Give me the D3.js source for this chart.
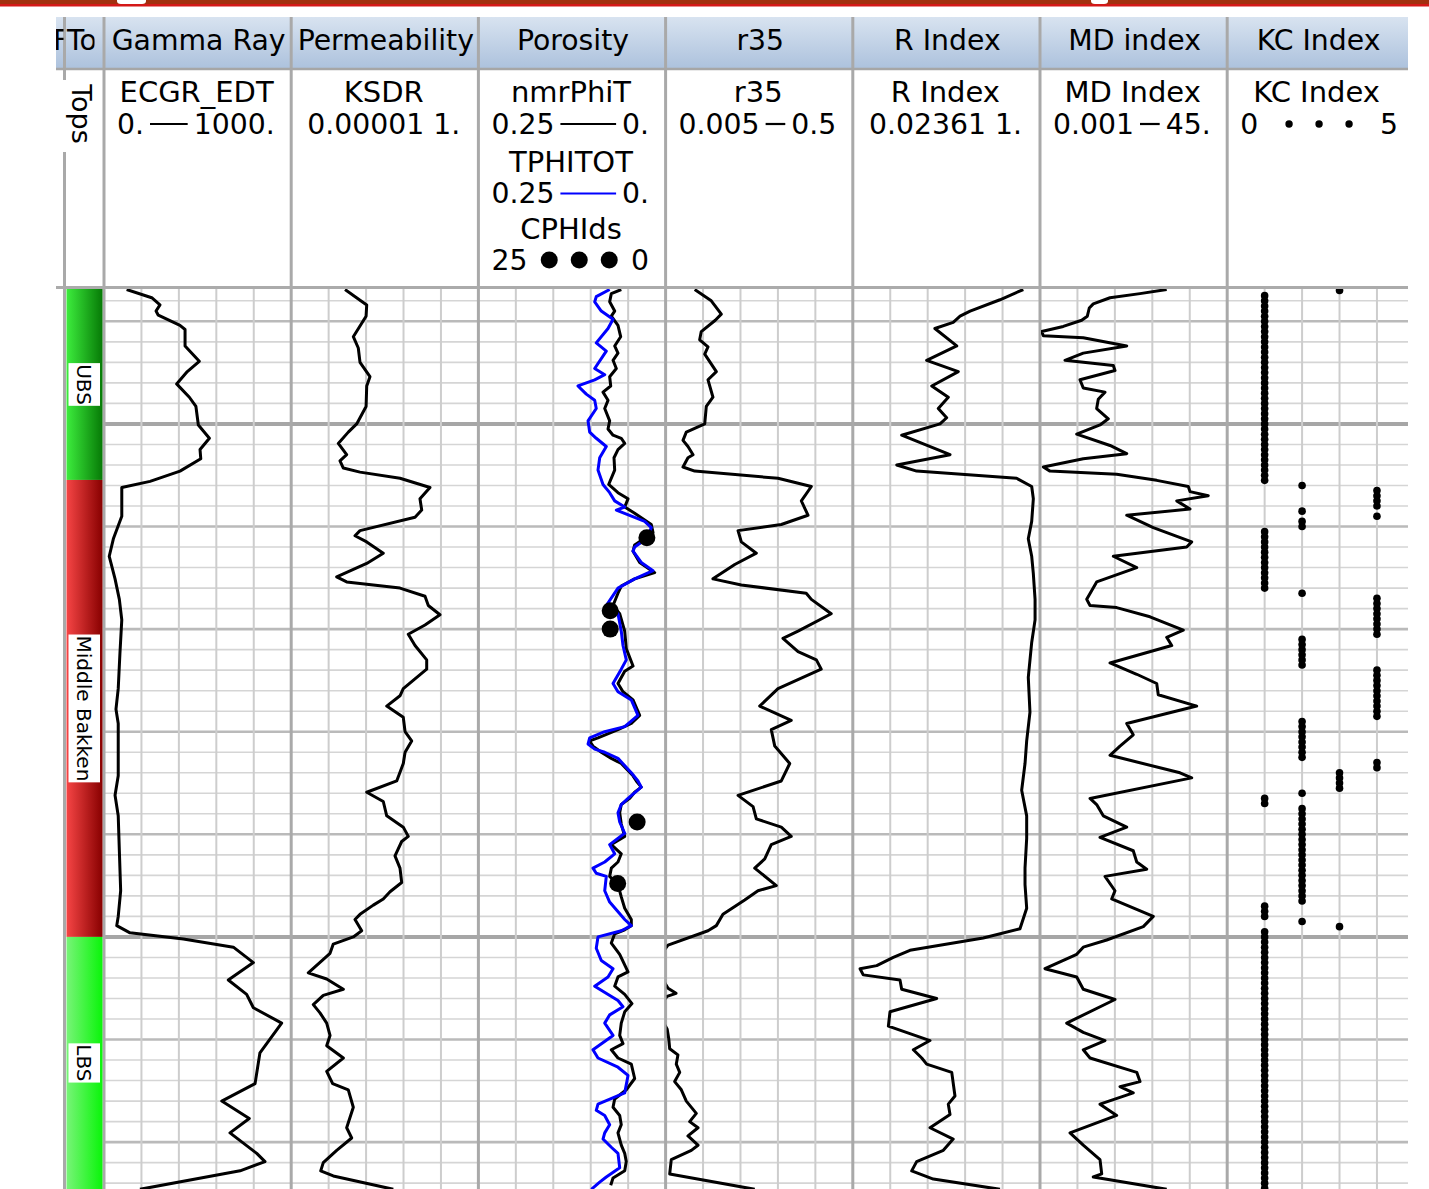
<!DOCTYPE html>
<html lang="en">
<head>
<meta charset="utf-8">
<title>Bakken well log</title>
<script src="https://cdn.jsdelivr.net/npm/d3@7/dist/d3.min.js"></script>
<style>
  html, body { margin: 0; padding: 0; background: #fff; }
  svg { display: block; }
  text { font-family: "DejaVu Sans", Verdana, sans-serif; fill: #000; }
</style>
</head>
<body>
<svg id="log" width="1429" height="1189"></svg>
<script>
// ---------------------------------------------------------------------------
// Depth window (ft) and track titles
// ---------------------------------------------------------------------------
const depthTop = 10836.85;
const depthBottom = 10924.6;
const trackNames = ['Gamma Ray', 'Permeability', 'Porosity', 'r35', 'R Index', 'MD index', 'KC Index'];

// Formation tops: name, top depth (ft)
const topNames = ['UBS', 'Middle Bakken', 'LBS'];
const topDepths = [10800, 10855.46, 10900.0];
const topBaseDepth = 10950;

// ---------------------------------------------------------------------------
// Curves: [depth ft, value]
// ---------------------------------------------------------------------------
// ECGR_EDT (API)
const gammaRay = [[10836.9,121],[10837.7,255],[10838.4,299],[10839.0,278],[10839.4,290],[10840.4,406],[10840.8,433],[10842.4,433],[10843.9,509],[10844.9,445],[10846.1,388],[10847.4,456],[10848.3,491],[10850.1,504],[10851.4,563],[10852.5,513],[10853.4,517],[10854.6,406],[10855.6,246],[10856.2,95],[10859.0,95],[10861.2,50],[10862.9,28],[10865.1,59],[10867.1,82],[10869.1,95],[10872.4,85],[10875.8,76],[10877.8,64],[10879.2,76],[10884.3,76],[10886.2,59],[10888.2,76],[10891.6,82],[10895.5,89],[10898.0,76],[10898.9,68],[10899.6,139],[10900.2,424],[10901.0,691],[10902.5,798],[10904.2,664],[10905.6,762],[10906.9,798],[10908.4,949],[10911.3,833],[10914.3,807],[10916.0,629],[10917.7,776],[10919.1,673],[10921.1,816],[10921.9,860],[10922.8,727],[10924.6,192]];

// KSDR permeability (mD)
const ksdr = [[10836.9,2.74e-4],[10838.4,1.04e-3],[10839.5,1.0e-3],[10841.5,4.56e-4],[10842.6,6.19e-4],[10844.0,6.89e-4],[10845.4,1.27e-3],[10846.3,1.04e-3],[10848.3,1.0e-3],[10850.0,5.61e-4],[10850.8,3.35e-4],[10851.9,1.81e-4],[10853.0,3.03e-4],[10853.6,2.01e-4],[10854.3,2.47e-4],[10854.7,6.89e-4],[10855.3,8.05e-3],[10856.2,5.09e-2],[10857.3,2.75e-2],[10858.4,3.06e-2],[10859.1,2.03e-2],[10860.4,6.89e-4],[10860.9,5.06e-4],[10861.5,1.04e-3],[10862.6,2.88e-3],[10863.6,1.04e-3],[10864.9,1.64e-4],[10865.4,3.03e-4],[10866.0,8.05e-3],[10866.8,3.75e-2],[10867.7,4.59e-2],[10868.6,9.42e-2],[10869.6,3.75e-2],[10870.5,1.34e-2],[10871.6,2.03e-2],[10873.0,4.16e-2],[10873.9,4.16e-2],[10875.8,9.86e-3],[10876.5,8.05e-3],[10877.5,3.56e-3],[10878.6,9.86e-3],[10880.0,1.10e-2],[10880.9,1.65e-2],[10882.0,1.10e-2],[10883.1,9.86e-3],[10884.8,6.58e-3],[10885.9,1.04e-3],[10886.8,2.88e-3],[10888.2,3.56e-3],[10889.3,9.86e-3],[10890.2,1.34e-2],[10890.7,8.93e-3],[10892.1,5.92e-3],[10893.3,8.05e-3],[10894.7,8.93e-3],[10895.6,4.36e-3],[10896.3,2.88e-3],[10896.9,1.56e-3],[10897.8,6.89e-4],[10898.3,5.06e-4],[10899.4,7.64e-4],[10900.0,4.56e-4],[10900.7,1.33e-4],[10901.6,1.09e-4],[10903.5,2.86e-5],[10904.1,8.87e-5],[10905.1,2.47e-4],[10905.7,7.19e-5],[10906.6,3.89e-5],[10907.4,5.87e-5],[10908.4,8.87e-5],[10909.6,1.09e-4],[10910.6,8.87e-5],[10911.8,2.47e-4],[10913.1,8.87e-5],[10914.3,1.28e-4],[10914.9,3.35e-4],[10916.6,4.56e-4],[10918.6,3.03e-4],[10919.6,4.13e-4],[10920.8,1.64e-4],[10922.0,7.19e-5],[10922.8,6.14e-5],[10923.3,1.33e-4],[10924.6,5.33e-3]];

// NMR total porosity (v/v)
const nmrPhiT = [[10836.9,0.0592],[10837.3,0.0725],[10838.1,0.0747],[10839.0,0.0680],[10839.5,0.0725],[10840.4,0.0636],[10841.5,0.0600],[10842.4,0.0680],[10843.1,0.0636],[10843.8,0.0702],[10844.6,0.0658],[10845.4,0.0747],[10846.3,0.0733],[10846.9,0.0836],[10847.7,0.0769],[10848.5,0.0813],[10849.7,0.0747],[10850.5,0.0769],[10851.1,0.0702],[10851.4,0.0592],[10851.9,0.0546],[10852.5,0.0636],[10853.3,0.0689],[10854.5,0.0680],[10855.9,0.0760],[10856.7,0.0636],[10857.3,0.0502],[10858.1,0.0546],[10858.7,0.0413],[10859.8,0.0191],[10860.6,0.0168],[10861.8,0.0413],[10862.4,0.0435],[10863.5,0.0346],[10864.5,0.0146],[10865.1,0.0413],[10865.8,0.0592],[10866.5,0.0636],[10867.7,0.0702],[10868.5,0.0613],[10870.2,0.0546],[10871.9,0.0525],[10873.6,0.0435],[10874.1,0.0546],[10875.3,0.0636],[10876.1,0.0569],[10876.9,0.0435],[10878.4,0.0346],[10879.2,0.0458],[10879.8,0.0636],[10880.6,0.0903],[10880.9,0.1014],[10881.4,0.0970],[10882.0,0.0859],[10882.6,0.0725],[10883.1,0.0592],[10884.3,0.0435],[10884.8,0.0391],[10885.4,0.0325],[10885.9,0.0413],[10886.5,0.0479],[10887.1,0.0592],[10887.9,0.0613],[10889.0,0.0592],[10890.2,0.0546],[10891.0,0.0725],[10891.9,0.0592],[10892.7,0.0636],[10893.3,0.0725],[10894.1,0.0747],[10894.9,0.0636],[10896.1,0.0592],[10897.2,0.0546],[10898.3,0.0458],[10898.9,0.0458],[10899.3,0.0546],[10899.7,0.0680],[10900.6,0.0725],[10901.7,0.0613],[10903.4,0.0502],[10903.9,0.0636],[10904.8,0.0680],[10905.6,0.0546],[10906.5,0.0449],[10907.3,0.0546],[10908.4,0.0592],[10909.6,0.0613],[10910.4,0.0569],[10911.0,0.0725],[10911.8,0.0636],[10912.4,0.0458],[10913.8,0.0413],[10914.9,0.0525],[10915.8,0.0680],[10916.6,0.0702],[10917.4,0.0613],[10918.3,0.0592],[10919.1,0.0636],[10920.3,0.0592],[10921.1,0.0546],[10921.9,0.0525],[10922.8,0.0546],[10923.5,0.0702],[10924.2,0.0733]];

// Total porosity (v/v)
const tphitot = [[10836.9,0.0747],[10837.6,0.0926],[10838.1,0.0947],[10839.0,0.0859],[10839.8,0.0702],[10840.7,0.0769],[10842.1,0.0926],[10842.9,0.0792],[10844.6,0.0947],[10845.2,0.0813],[10845.7,0.0947],[10846.3,0.1170],[10847.1,0.1059],[10847.7,0.0947],[10848.5,0.0926],[10849.7,0.1036],[10850.8,0.1014],[10851.4,0.0926],[10852.2,0.0792],[10853.3,0.0880],[10854.5,0.0903],[10855.9,0.0836],[10856.7,0.0747],[10857.5,0.0680],[10858.1,0.0546],[10858.4,0.0658],[10859.5,0.0279],[10860.1,0.0191],[10861.2,0.0258],[10862.0,0.0413],[10862.4,0.0435],[10863.5,0.0325],[10864.3,0.0168],[10865.1,0.0413],[10866.0,0.0636],[10867.7,0.0792],[10868.5,0.0636],[10870.2,0.0592],[10871.6,0.0569],[10873.0,0.0525],[10873.9,0.0592],[10875.3,0.0702],[10876.1,0.0636],[10876.9,0.0458],[10878.4,0.0369],[10879.5,0.0546],[10880.0,0.0813],[10880.6,0.1014],[10881.2,0.1036],[10881.7,0.0947],[10882.0,0.0813],[10882.6,0.0636],[10884.0,0.0458],[10884.8,0.0369],[10885.4,0.0325],[10886.5,0.0502],[10887.1,0.0592],[10887.9,0.0636],[10888.8,0.0613],[10889.9,0.0546],[10891.0,0.0747],[10891.9,0.0680],[10892.7,0.0813],[10893.3,0.0970],[10893.8,0.0926],[10894.1,0.0792],[10895.5,0.0813],[10896.6,0.0747],[10898.3,0.0546],[10898.9,0.0458],[10899.4,0.0592],[10900.0,0.0903],[10901.1,0.0926],[10902.3,0.0859],[10903.1,0.0702],[10903.9,0.0769],[10904.8,0.0947],[10906.2,0.0636],[10906.8,0.0569],[10907.6,0.0747],[10908.4,0.0813],[10909.6,0.0702],[10911.0,0.0970],[10911.8,0.0903],[10912.7,0.0636],[10913.5,0.0502],[10915.2,0.0546],[10916.3,0.0903],[10916.9,0.0926],[10917.4,0.0813],[10918.3,0.0747],[10919.1,0.0813],[10919.7,0.0836],[10920.5,0.0725],[10921.1,0.0636],[10922.5,0.0613],[10923.4,0.0792],[10923.9,0.0880],[10924.6,0.0992]];

// Core porosity CPHIds (%)
const cphids = [[10861.1,2.5],[10868.2,7.4],[10870.0,7.4],[10888.8,3.8],[10894.8,6.4]];

// r35 pore-throat radius (micron)
const r35 = [[10836.9,0.01023],[10838.0,0.01538],[10839.3,0.01968],[10839.9,0.01698],[10841.0,0.01202],[10841.8,0.01156],[10842.5,0.01419],[10843.2,0.01309],[10844.9,0.01742],[10845.7,0.01419],[10847.4,0.01603],[10848.3,0.01361],[10850.0,0.01309],[10850.8,0.00832],[10851.6,0.00767],[10852.2,0.00867],[10853.0,0.00982],[10853.3,0.00867],[10854.2,0.00767],[10854.6,0.01023],[10855.3,0.0794],[10856.1,0.1803],[10857.5,0.141],[10858.9,0.166],[10859.8,0.0861],[10860.4,0.0297],[10861.5,0.0322],[10862.6,0.0466],[10863.7,0.0274],[10865.1,0.01603],[10865.7,0.0322],[10866.5,0.159],[10867.1,0.1803],[10868.5,0.294],[10870.2,0.130],[10870.9,0.0897],[10872.2,0.130],[10873.0,0.204],[10873.9,0.230],[10875.8,0.0794],[10877.5,0.0506],[10878.9,0.110],[10879.8,0.0673],[10881.4,0.0733],[10883.1,0.106],[10884.8,0.0861],[10886.2,0.0297],[10887.3,0.0430],[10888.5,0.0466],[10889.3,0.0861],[10890.2,0.110],[10891.0,0.0673],[10892.4,0.0573],[10893.3,0.0448],[10895.0,0.0762],[10895.5,0.0485],[10896.4,0.035],[10897.8,0.0205],[10898.9,0.01742],[10899.4,0.01419],[10900.8,0.00531],[10901.8,0.00436],[10903.7,0.00436],[10905.0,0.00531],[10905.5,0.00646],[10905.8,0.00518],[10906.6,0.00436],[10908.1,0.00458],[10909.0,0.0052],[10909.9,0.0054],[10910.9,0.00553],[10911.5,0.00677],[10912.4,0.0065],[10913.2,0.00708],[10914.1,0.00625],[10914.9,0.00736],[10916.0,0.00832],[10917.2,0.01064],[10918.0,0.00904],[10918.6,0.0111],[10919.4,0.00867],[10920.3,0.0111],[10920.8,0.00942],[10921.7,0.00575],[10923.1,0.00553],[10924.6,0.0448]];

// R index
const rIndex = [[10836.9,0.716],[10837.9,0.449],[10839.0,0.247],[10839.5,0.202],[10840.1,0.176],[10840.7,0.122],[10842.4,0.189],[10843.8,0.1035],[10844.9,0.195],[10846.3,0.1146],[10847.4,0.1596],[10848.5,0.1306],[10849.4,0.1545],[10850.0,0.1352],[10851.1,0.0628],[10853.0,0.1652],[10854.0,0.0569],[10854.6,0.0847],[10855.3,0.627],[10856.1,0.847],[10857.3,0.875],[10859.5,0.847],[10861.2,0.791],[10862.9,0.847],[10864.6,0.875],[10867.1,0.906],[10869.1,0.906],[10871.3,0.847],[10874.7,0.791],[10878.1,0.818],[10880.9,0.766],[10883.1,0.741],[10885.7,0.693],[10888.2,0.766],[10890.4,0.766],[10893.3,0.741],[10894.9,0.741],[10897.2,0.766],[10899.2,0.670],[10900.1,0.321],[10901.3,0.0741],[10902.0,0.0531],[10902.8,0.0381],[10903.1,0.0273],[10903.7,0.0291],[10904.2,0.0607],[10905.1,0.0628],[10906.0,0.1265],[10907.3,0.0497],[10908.7,0.0481],[10910.1,0.1107],[10911.0,0.0793],[10911.8,0.0938],[10912.4,0.1035],[10913.2,0.171],[10915.5,0.1824],[10916.3,0.1596],[10917.3,0.1652],[10918.6,0.1107],[10919.7,0.176],[10920.8,0.1445],[10921.9,0.0847],[10922.8,0.0767],[10923.6,0.1183],[10924.6,0.449]];

// MD index
const mdIndex = [[10836.9,1.41],[10837.3,0.306],[10837.7,0.0550],[10838.3,0.0211],[10838.7,0.0168],[10839.5,0.0150],[10839.9,0.01087],[10840.5,0.00379],[10841.0,0.00110],[10841.4,0.00121],[10841.6,0.0119],[10842.4,0.143],[10843.1,0.0119],[10843.8,0.00418],[10844.3,0.0664],[10844.8,0.0731],[10845.7,0.00986],[10846.5,0.0119],[10846.9,0.0413],[10847.6,0.0281],[10848.5,0.0256],[10849.5,0.0499],[10850.1,0.0310],[10851.0,0.00817],[10852.1,0.0550],[10852.9,0.143],[10853.4,0.0119],[10854.2,0.00121],[10854.6,0.00177],[10854.9,0.0805],[10855.5,0.796],[10856.1,4.85],[10856.6,5.35],[10857.0,15.2],[10857.5,2.50],[10858.3,5.35],[10858.9,0.143],[10860.1,0.655],[10861.5,5.90],[10862.0,4.43],[10862.9,0.0664],[10864.0,0.254],[10865.4,0.0256],[10867.1,0.0145],[10867.7,0.0175],[10867.9,0.0805],[10868.8,0.542],[10870.1,3.65],[10870.8,1.41],[10871.6,1.88],[10873.3,0.0550],[10874.4,0.254],[10875.3,0.796],[10876.4,0.871],[10877.5,7.85],[10879.2,0.143],[10880.3,0.208],[10881.4,0.0973],[10882.3,0.0550],[10884.0,3.02],[10884.5,5.90],[10886.5,0.0175],[10887.1,0.0256],[10888.2,0.0374],[10889.3,0.143],[10890.3,0.0310],[10891.6,0.208],[10892.7,0.254],[10893.4,0.449],[10894.1,0.0413],[10895.5,0.0731],[10896.3,0.0605],[10898.0,0.655],[10899.0,0.370],[10900.3,0.0455],[10901.0,0.0119],[10901.7,0.00817],[10903.1,0.00133],[10903.9,0.00817],[10905.1,0.0119],[10906.1,0.0731],[10908.4,0.00461],[10909.3,0.0119],[10910.1,0.0413],[10911.0,0.0119],[10911.8,0.0175],[10913.2,0.254],[10914.1,0.306],[10914.6,0.0973],[10915.2,0.208],[10916.3,0.0310],[10917.4,0.0805],[10919.1,0.00557],[10920.3,0.0119],[10921.7,0.0310],[10923.1,0.0342],[10923.4,0.0211],[10924.6,1.41]];

// KC index, sampled every 0.5 ft: runs of [from ft, to ft, class]
const kcSampleStep = 0.5;
const kcRuns = [[10837.0,10837.0,3],[10837.5,10855.5,1],[10856.0,10856.0,2],[10856.5,10858.0,4],[10858.5,10858.5,2],[10859.0,10859.0,4],[10859.5,10860.0,2],[10860.5,10866.0,1],[10866.5,10866.5,2],[10867.0,10870.5,4],[10871.0,10873.5,2],[10874.0,10878.5,4],[10879.0,10882.5,2],[10883.0,10883.5,4],[10884.0,10885.5,3],[10886.0,10886.0,2],[10886.5,10887.0,1],[10887.5,10896.5,2],[10897.0,10898.0,1],[10898.5,10898.5,2],[10899.0,10899.0,3],[10899.5,10924.5,1]];

// ---------------------------------------------------------------------------
// Layout
// ---------------------------------------------------------------------------
const W = 1429, H = 1189;
const frameLeft = 56, frameRight = 1408;
const headTop = 17, headBottom = 68, legendBottom = 288, dataTop = 289;
const pxPerFt = 10.26;
const trackLeft = 104, trackW = 187.2;
const topsX0 = 64.5, topsX1 = 104;
const FONT = 28.3;
const CURVE_W = 3;

const svg = d3.select('#log');
const defs = svg.append('defs');

const y = d3.scaleLinear()
  .domain([depthTop, depthBottom])
  .range([dataTop, dataTop + (depthBottom - depthTop) * pxPerFt]);

const tracks = trackNames.map((name, i) => {
  const x0 = trackLeft + i * trackW, x1 = x0 + trackW;
  return { name, x0, x1, vx1: Math.min(x1, frameRight) };
});
const range = i => [tracks[i].x0, tracks[i].x1];

const xGR   = d3.scaleLinear().domain([0, 1000]).range(range(0));
const xPerm = d3.scaleLog().domain([1e-5, 1]).range(range(1));
const xPor  = d3.scaleLinear().domain([0.25, 0]).range(range(2));
const xCphi = d3.scaleLinear().domain([25, 0]).range(range(2));
const xR35  = d3.scaleLog().domain([0.005, 0.5]).range(range(3));
const xRI   = d3.scaleLog().domain([0.02361, 1]).range(range(4));
const xMD   = d3.scaleLog().domain([0.001, 45]).range(range(5));
const xKC   = d3.scaleLinear().domain([0, 5]).range(range(6));

// ---------------------------------------------------------------------------
// Window chrome strip
// ---------------------------------------------------------------------------
svg.append('rect').attr('width', W).attr('height', H).attr('fill', '#fff');
svg.append('rect').attr('x', 0).attr('y', 0).attr('width', W).attr('height', 4.5).attr('fill', '#a2300f');
svg.append('rect').attr('x', 0).attr('y', 4).attr('width', W).attr('height', 2.5).attr('fill', '#d41818');
[[117, 146], [1091, 1108]].forEach(([a, b]) => {
  svg.append('path')
    .attr('d', `M${a},0 L${b},0 L${b},1 Q${b},4 ${b - 4},4 L${a + 4},4 Q${a},4 ${a},1 Z`)
    .attr('fill', '#fff');
});

// ---------------------------------------------------------------------------
// Header band
// ---------------------------------------------------------------------------
const hg = defs.append('linearGradient').attr('id', 'hdrGrad')
  .attr('x1', 0).attr('y1', 0).attr('x2', 0).attr('y2', 1);
hg.append('stop').attr('offset', '0%').attr('stop-color', '#d8e3f0');
hg.append('stop').attr('offset', '100%').attr('stop-color', '#adc2dd');
svg.append('rect').attr('x', frameLeft).attr('y', headTop)
  .attr('width', frameRight - frameLeft).attr('height', headBottom - headTop)
  .attr('fill', 'url(#hdrGrad)');

// ---------------------------------------------------------------------------
// Depth grid
// ---------------------------------------------------------------------------
const gridG = svg.append('g');
const gridDepths = d3.range(Math.ceil(depthTop / 2) * 2, depthBottom, 2);
tracks.forEach(t => {
  gridDepths.forEach(d => {
    const heavy = d % 50 === 0, major = d % 10 === 0;
    gridG.append('line')
      .attr('x1', t.x0).attr('x2', t.vx1)
      .attr('y1', y(d)).attr('y2', y(d))
      .attr('stroke', heavy ? '#a6a6a6' : major ? '#bababa' : '#d5d5d5')
      .attr('stroke-width', heavy ? 4 : major ? 2.6 : 1.6);
  });
  for (let k = 1; k < 5; k++) {
    const gx = t.x0 + k * trackW / 5;
    if (gx >= frameRight) continue;
    gridG.append('line')
      .attr('x1', gx).attr('x2', gx).attr('y1', dataTop).attr('y2', H)
      .attr('stroke', '#cdcdcd').attr('stroke-width', 2);
  }
});

// ---------------------------------------------------------------------------
// Frame lines
// ---------------------------------------------------------------------------
const frameG = svg.append('g');
[topsX0, ...tracks.map(t => t.x0)].forEach(x => {
  frameG.append('line').attr('x1', x).attr('x2', x).attr('y1', headTop).attr('y2', H)
    .attr('stroke', '#a9a9a9').attr('stroke-width', 3);
});
frameG.append('line').attr('x1', frameLeft).attr('x2', frameRight)
  .attr('y1', headBottom + 1).attr('y2', headBottom + 1)
  .attr('stroke', '#a6a6a6').attr('stroke-width', 2.5);
frameG.append('line').attr('x1', frameLeft).attr('x2', frameRight)
  .attr('y1', legendBottom - 0.5).attr('y2', legendBottom - 0.5)
  .attr('stroke', '#ababab').attr('stroke-width', 3);

// ---------------------------------------------------------------------------
// Formation tops column
// ---------------------------------------------------------------------------
const topColors = [['#3ded3d', '#067a06'], ['#f64545', '#880000'], ['#78f478', '#0af50a']];
topColors.forEach((c, i) => {
  const g = defs.append('linearGradient').attr('id', 'top' + i)
    .attr('x1', 0).attr('y1', 0).attr('x2', 1).attr('y2', 0);
  g.append('stop').attr('offset', '0%').attr('stop-color', c[0]);
  g.append('stop').attr('offset', '100%').attr('stop-color', c[1]);
});
defs.append('clipPath').attr('id', 'clipTops').append('rect')
  .attr('x', topsX0).attr('y', dataTop).attr('width', topsX1 - topsX0).attr('height', H - dataTop);
const topsG = svg.append('g').attr('clip-path', 'url(#clipTops)');
topNames.forEach((name, i) => {
  const d0 = topDepths[i], d1 = i + 1 < topDepths.length ? topDepths[i + 1] : topBaseDepth;
  const y0 = y(d0), y1 = y(d1);
  topsG.append('rect').attr('x', topsX0 + 2).attr('y', y0)
    .attr('width', topsX1 - topsX0 - 3.5).attr('height', y1 - y0)
    .attr('fill', `url(#top${i})`);
  const cy = (Math.max(y0, dataTop) + Math.min(y1, H)) / 2;
  const lbl = topsG.append('text')
    .attr('transform', `translate(${(topsX0 + topsX1) / 2 - 7},${cy}) rotate(90)`)
    .attr('text-anchor', 'middle').attr('font-size', 20).text(name);
  const w = lbl.node().getComputedTextLength();
  topsG.insert('rect', () => lbl.node())
    .attr('x', topsX0 + 4).attr('y', cy - w / 2 - 1)
    .attr('width', 31.5).attr('height', w + 2).attr('fill', '#fff');
});

// ---------------------------------------------------------------------------
// Curves
// ---------------------------------------------------------------------------
tracks.forEach((t, i) => {
  defs.append('clipPath').attr('id', 'clipT' + i).append('rect')
    .attr('x', t.x0 + 1).attr('y', dataTop).attr('width', t.vx1 - t.x0 - 2).attr('height', H - dataTop);
});
const curve = (i, data, xs, color) => {
  svg.append('path')
    .attr('clip-path', `url(#clipT${i})`)
    .attr('d', d3.line().x(d => xs(d[1])).y(d => y(d[0]))(data))
    .attr('fill', 'none').attr('stroke', color).attr('stroke-width', CURVE_W)
    .attr('stroke-linejoin', 'round');
};
curve(0, gammaRay, xGR, '#000');
curve(1, ksdr, xPerm, '#000');
curve(2, nmrPhiT, xPor, '#000');
curve(2, tphitot, xPor, '#0000ff');
curve(3, r35, xR35, '#000');
curve(4, rIndex, xRI, '#000');
curve(5, mdIndex, xMD, '#000');

svg.append('g').attr('clip-path', 'url(#clipT2)')
  .selectAll('circle').data(cphids).join('circle')
  .attr('cx', d => xCphi(d[1])).attr('cy', d => y(d[0])).attr('r', 8.5).attr('fill', '#000');

const kcSamples = kcRuns.flatMap(([a, b, v]) =>
  d3.range(a, b + kcSampleStep / 2, kcSampleStep).map(d => [d, v]));
svg.append('g').attr('clip-path', 'url(#clipT6)')
  .selectAll('circle').data(kcSamples).join('circle')
  .attr('cx', d => xKC(d[1])).attr('cy', d => y(d[0])).attr('r', 3.8).attr('fill', '#000');

// ---------------------------------------------------------------------------
// Header titles
// ---------------------------------------------------------------------------
const titleG = svg.append('g').attr('font-size', FONT);
tracks.forEach(t => {
  titleG.append('text').attr('x', (t.x0 + t.vx1) / 2 + 1).attr('y', 50)
    .attr('text-anchor', 'middle').text(t.name);
});
defs.append('clipPath').attr('id', 'clipColF').append('rect')
  .attr('x', frameLeft).attr('y', headTop).attr('width', topsX0 - frameLeft - 1).attr('height', 60);
defs.append('clipPath').attr('id', 'clipColTops').append('rect')
  .attr('x', topsX0 + 1).attr('y', headTop).attr('width', 29).attr('height', 60);
titleG.append('text').attr('clip-path', 'url(#clipColF)').attr('x', 53).attr('y', 50).text('F');
titleG.append('text').attr('clip-path', 'url(#clipColTops)').attr('x', 67).attr('y', 50).text('To');

// "Tops" caption in the legend row
svg.append('rect').attr('x', 62).attr('y', 80).attr('width', 35).attr('height', 72).attr('fill', '#fff');
svg.append('text').attr('font-size', 27)
  .attr('transform', 'translate(72,114) rotate(90)')
  .attr('text-anchor', 'middle').text('Tops');

// ---------------------------------------------------------------------------
// Curve legends
// ---------------------------------------------------------------------------
const legends = [
  [{ name: 'ECGR_EDT', lo: '0.', hi: '1000.', kind: 'line', color: '#000' }],
  [{ name: 'KSDR', lo: '0.00001', hi: '1.', kind: 'line', color: '#000' }],
  [{ name: 'nmrPhiT', lo: '0.25', hi: '0.', kind: 'line', color: '#000' },
   { name: 'TPHITOT', lo: '0.25', hi: '0.', kind: 'line', color: '#0000ff' },
   { name: 'CPHIds', lo: '25', hi: '0', kind: 'dots', r: 8.5 }],
  [{ name: 'r35', lo: '0.005', hi: '0.5', kind: 'line', color: '#000' }],
  [{ name: 'R Index', lo: '0.02361', hi: '1.', kind: 'line', color: '#000' }],
  [{ name: 'MD Index', lo: '0.001', hi: '45.', kind: 'line', color: '#000' }],
  [{ name: 'KC Index', lo: '0', hi: '5', kind: 'dots', r: 3.7 }]
];
const nameBase = [102, 171.5, 239];
const scaleBase = [133.5, 203, 269.5];
const legG = svg.append('g').attr('font-size', FONT);
legends.forEach((entries, ti) => {
  const t = tracks[ti];
  entries.forEach((e, k) => {
    legG.append('text').attr('x', (t.x0 + t.vx1) / 2 - 1).attr('y', nameBase[k])
      .attr('text-anchor', 'middle').attr('font-size', 29).text(e.name);
    const sb = scaleBase[k];
    const lx = t.x0 + 13, rx = t.x1 - 16.5;
    const lt = legG.append('text').attr('x', lx).attr('y', sb).text(e.lo);
    const rt = legG.append('text').attr('x', rx).attr('y', sb).attr('text-anchor', 'end').text(e.hi);
    const a = lx + lt.node().getComputedTextLength() + 6;
    const b = rx - rt.node().getComputedTextLength() - 6;
    if (e.kind === 'dots') {
      const cx = (a + b) / 2;
      [-30, 0, 30].forEach(dx => legG.append('circle')
        .attr('cx', cx + dx).attr('cy', sb - 9.5).attr('r', e.r).attr('fill', '#000'));
    } else if (b - a >= 12) {
      legG.append('line').attr('x1', a).attr('x2', b).attr('y1', sb - 9.5).attr('y2', sb - 9.5)
        .attr('stroke', e.color).attr('stroke-width', 2.2);
    } else {
      lt.remove(); rt.remove();
      legG.append('text').attr('x', (t.x0 + t.x1) / 2 - 1).attr('y', sb)
        .attr('text-anchor', 'middle').text(`${e.lo} ${e.hi}`);
    }
  });
});
</script>
</body>
</html>
